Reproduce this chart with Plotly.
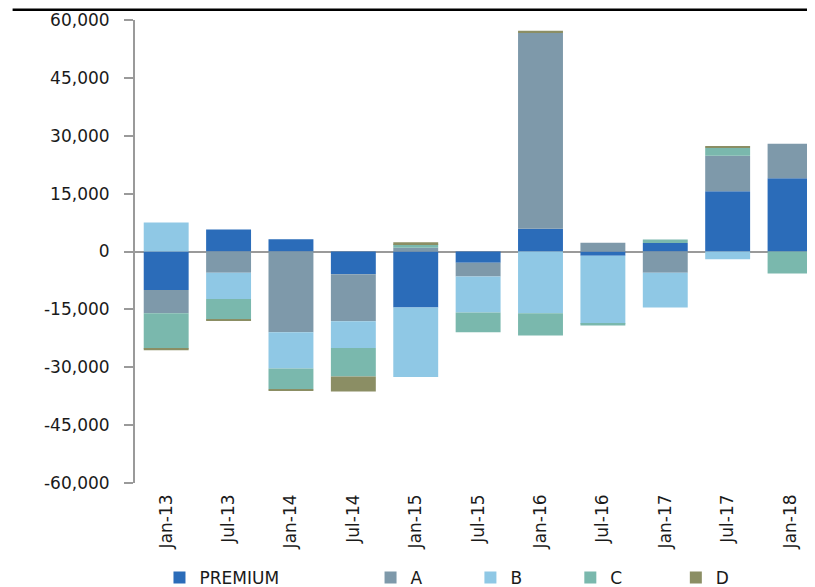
import plotly.graph_objects as go

periods = ["Jan-13", "Jul-13", "Jan-14", "Jul-14", "Jan-15", "Jul-15",
           "Jan-16", "Jul-16", "Jan-17", "Jul-17", "Jan-18"]

premium = [-10000, 5700, 3200, -5900, -14500, -2900, 5900, -1100, 2200, 15600, 19000]
seg_a = [-6000, -5500, -20900, -12200, 1000, -3600, 50700, 2300, -5500, 9200, 8900]
seg_b = [7500, -6800, -9400, -6900, -18000, -9300, -16000, -17600, -9000, -2000, 0]
seg_c = [-9200, -5400, -5400, -7400, 900, -5100, -5800, -500, 900, 2100, -5700]
seg_d = [-400, -200, -400, -3900, 500, 0, 600, 0, 0, 400, 0]

series = [
    ("PREMIUM", premium, "#2B6CB9"),
    ("A", seg_a, "#7E99AA"),
    ("B", seg_b, "#8FC8E5"),
    ("C", seg_c, "#7AB8AD"),
    ("D", seg_d, "#8B8E64"),
]

tick_vals = [-60000, -45000, -30000, -15000, 0, 15000, 30000, 45000, 60000]
tick_text = ["-60,000", "-45,000", "-30,000", "-15,000", "0",
             "15,000", "30,000", "45,000", "60,000"]

FONT = "DejaVu Sans, Verdana, sans-serif"
# pad legend names so entries spread out like the original
pad = "\u00a0"
legend_pad = {"PREMIUM": 16, "A": 8, "B": 8, "C": 9, "D": 0}

fig = go.Figure()
for name, vals, color in series:
    fig.add_trace(
        go.Bar(
            x=periods,
            y=vals,
            name=name + pad * legend_pad[name],
            marker=dict(color=color, line=dict(width=0)),
            hovertemplate=name + " %{x}: %{y:,}<extra></extra>",
        )
    )

# black rule along the top of the picture
fig.add_shape(
    type="line", xref="paper", yref="paper",
    x0=-0.18, x1=1.0, y0=1.022, y1=1.022,
    line=dict(color="black", width=2.5),
)

# page body has an 8px margin, so the figure is 8px smaller each way
fig.update_layout(
    barmode="relative",
    bargap=0.28,
    width=807,
    height=579,
    margin=dict(l=127, r=0, t=12, b=104, autoexpand=False),
    paper_bgcolor="white",
    plot_bgcolor="white",
    font=dict(family=FONT, size=17, color="#1a1a1a"),
    showlegend=True,
    legend=dict(
        orientation="h",
        x=0.036,
        xanchor="left",
        y=-0.205,
        yanchor="middle",
        font=dict(size=17, color="#1a1a1a"),
        itemwidth=30,
        traceorder="normal",
    ),
    xaxis=dict(
        range=[-0.5, 10.4],
        tickangle=-90,
        showline=False,
        ticks="",
        showgrid=False,
        zeroline=False,
        tickfont=dict(size=17),
        ticklabelstandoff=7,
    ),
    yaxis=dict(
        range=[-60000, 60000],
        tickvals=tick_vals,
        ticktext=tick_text,
        showline=True,
        linecolor="#9a9a9a",
        linewidth=2,
        ticks="outside",
        ticklen=9,
        tickwidth=2,
        tickcolor="#9a9a9a",
        showgrid=False,
        zeroline=True,
        zerolinecolor="#9a9a9a",
        zerolinewidth=2,
        tickfont=dict(size=17),
        ticklabelstandoff=11,
    ),
)

fig.write_html("out.html")
